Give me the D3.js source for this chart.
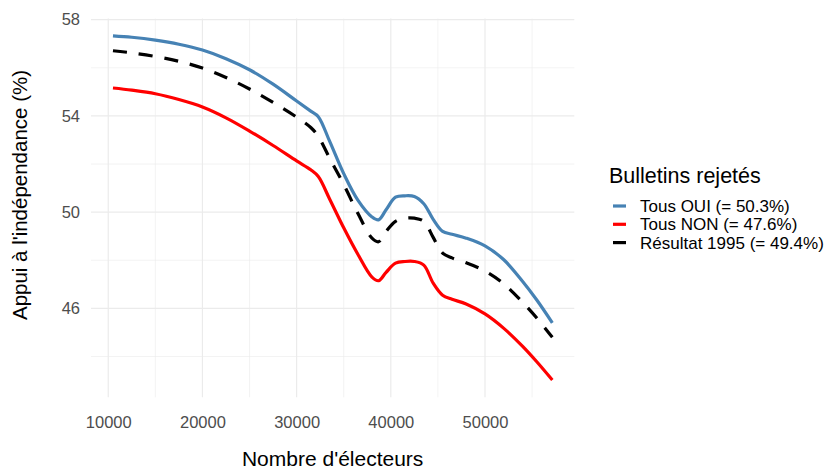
<!DOCTYPE html>
<html>
<head>
<meta charset="utf-8">
<script src="https://cdn.jsdelivr.net/npm/d3@7"></script>
<style>
  html, body { margin: 0; padding: 0; background: #ffffff; }
  svg { display: block; font-family: "Liberation Sans", Arial, Helvetica, sans-serif; }
</style>
</head>
<body>
<svg id="chart" width="829" height="471"></svg>
<script>
// ---- Data ----
const electeurs = [10500, 12500, 15000, 17500, 20000, 22500, 25000, 27500, 30000, 31500,
                   32300, 33500, 35000, 36500, 38000, 38700, 39500, 40500, 41500, 42500,
                   43500, 44500, 45500, 46500, 48000, 50000, 52000, 54000, 55500, 57150];
const tousOui = [57.33, 57.27, 57.15, 56.98, 56.74, 56.38, 55.92, 55.32, 54.62, 54.20,
                 53.97, 52.95, 51.60, 50.50, 49.80, 49.68, 50.10, 50.62, 50.68, 50.65,
                 50.35, 49.70, 49.20, 49.08, 48.92, 48.60, 48.02, 47.12, 46.35, 45.40];
const tousNon = [55.16, 55.07, 54.92, 54.68, 54.37, 53.92, 53.37, 52.77, 52.13, 51.76,
                 51.48, 50.55, 49.35, 48.25, 47.30, 47.15, 47.50, 47.88, 47.95, 47.95,
                 47.80, 47.05, 46.55, 46.38, 46.18, 45.77, 45.17, 44.42, 43.78, 43.02];
const resultat1995 = [56.71, 56.62, 56.47, 56.27, 55.99, 55.60, 55.12, 54.56, 53.95, 53.52,
                      53.15, 52.25, 51.15, 49.95, 48.92, 48.77, 49.20, 49.62, 49.75, 49.75,
                      49.62, 48.95, 48.30, 48.10, 47.90, 47.55, 47.02, 46.25, 45.60, 44.80];
const seriesNames = ["Tous OUI (= 50.3%)", "Tous NON (= 47.6%)", "Résultat 1995 (= 49.4%)"];
const seriesColors = ["#4682B4", "#FF0000", "#000000"];
const xMajorTicks = [10000, 20000, 30000, 40000, 50000];
const xMinorTicks = [15000, 25000, 35000, 45000, 55000];
const yMajorTicks = [46, 50, 54, 58];
const yMinorTicks = [44, 48, 52, 56];
const legendTitle = "Bulletins rejetés";
const xTitle = "Nombre d'électeurs";
const yTitle = "Appui à l'indépendance (%)";

// ---- Layout ----
const svg = d3.select("#chart");
const panel = { left: 91, right: 574.3, top: 18.6, bottom: 397.3 };

const xExt = d3.extent(electeurs);
const xPad = (xExt[1] - xExt[0]) * 0.05;
const allY = tousOui.concat(tousNon, resultat1995);
const yExt = d3.extent(allY);
const yPad = (yExt[1] - yExt[0]) * 0.05;

const x = d3.scaleLinear().domain([xExt[0] - xPad, xExt[1] + xPad]).range([panel.left, panel.right]);
const y = d3.scaleLinear().domain([yExt[0] - yPad, yExt[1] + yPad]).range([panel.bottom, panel.top]);

// ---- Grid ----
const grid = svg.append("g");
grid.selectAll(".xminor").data(xMinorTicks).join("line")
  .attr("x1", d => x(d)).attr("x2", d => x(d))
  .attr("y1", panel.top).attr("y2", panel.bottom)
  .attr("stroke", "#ebebeb").attr("stroke-width", 0.6);
grid.selectAll(".yminor").data(yMinorTicks).join("line")
  .attr("x1", panel.left).attr("x2", panel.right)
  .attr("y1", d => y(d)).attr("y2", d => y(d))
  .attr("stroke", "#ebebeb").attr("stroke-width", 0.6);
grid.selectAll(".xmajor").data(xMajorTicks).join("line")
  .attr("x1", d => x(d)).attr("x2", d => x(d))
  .attr("y1", panel.top).attr("y2", panel.bottom)
  .attr("stroke", "#ebebeb").attr("stroke-width", 1.2);
grid.selectAll(".ymajor").data(yMajorTicks).join("line")
  .attr("x1", panel.left).attr("x2", panel.right)
  .attr("y1", d => y(d)).attr("y2", d => y(d))
  .attr("stroke", "#ebebeb").attr("stroke-width", 1.2);

// ---- Axes (labels only, ggplot minimal style) ----
const xAxis = svg.append("g").attr("transform", `translate(0,${panel.bottom})`)
  .call(d3.axisBottom(x).tickValues(xMajorTicks).tickFormat(d3.format("d")).tickSize(0).tickPadding(19));
xAxis.select(".domain").remove();
xAxis.selectAll("text").attr("fill", "#4d4d4d").style("font-size", "16.5px")
  .style("font-family", "'Liberation Sans', Arial, sans-serif");

const yAxis = svg.append("g").attr("transform", `translate(${panel.left},0)`)
  .call(d3.axisLeft(y).tickValues(yMajorTicks).tickFormat(d3.format("d")).tickSize(0).tickPadding(11));
yAxis.select(".domain").remove();
yAxis.selectAll("text").attr("fill", "#4d4d4d").style("font-size", "16.5px")
  .style("font-family", "'Liberation Sans', Arial, sans-serif");

// ---- Lines ----
const seriesData = [tousOui, tousNon, resultat1995];
const line = d3.line()
  .x((d, i) => x(electeurs[i]))
  .y(d => y(d))
  .curve(d3.curveCatmullRom.alpha(0.5));

svg.append("g").selectAll("path").data(seriesData).join("path")
  .attr("d", d => line(d))
  .attr("fill", "none")
  .attr("stroke", (d, i) => seriesColors[i])
  .attr("stroke-width", 3.2)
  .attr("stroke-dasharray", (d, i) => i === 2 ? "14,12" : null)
  .attr("stroke-linejoin", "round");

// ---- Axis titles ----
svg.append("text")
  .attr("x", (panel.left + panel.right) / 2).attr("y", 466)
  .attr("text-anchor", "middle").attr("fill", "#000")
  .style("font-size", "21px").text(xTitle);

svg.append("text")
  .attr("transform", "translate(27,195) rotate(-90)")
  .attr("text-anchor", "middle").attr("fill", "#000")
  .style("font-size", "20.5px").text(yTitle);

// ---- Legend ----
const legend = svg.append("g");
legend.append("text")
  .attr("x", 609).attr("y", 182.5)
  .attr("fill", "#000").style("font-size", "21.5px").text(legendTitle);

const rowsY = [206, 224.3, 242.6];
const rows = legend.selectAll(".row").data(seriesNames).join("g")
  .attr("transform", (d, i) => `translate(0,${rowsY[i]})`);
rows.append("line")
  .attr("x1", 613).attr("x2", 626).attr("y1", 0).attr("y2", 0)
  .attr("stroke", (d, i) => seriesColors[i]).attr("stroke-width", 3.2);
rows.append("text")
  .attr("x", 640).attr("y", 0).attr("dy", "0.36em")
  .attr("fill", "#000").style("font-size", "17px").text(d => d);
</script>
</body>
</html>
